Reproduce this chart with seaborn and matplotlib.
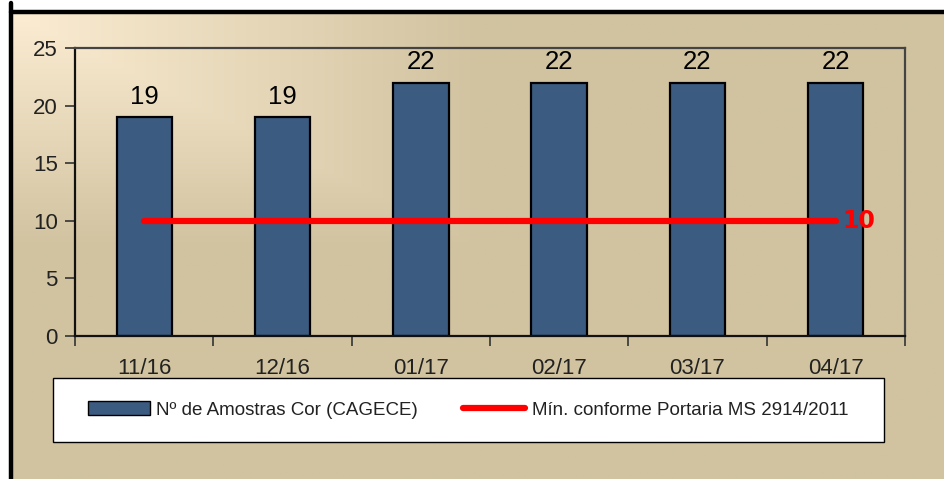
import numpy as np
import pandas as pd
import matplotlib.pyplot as plt
import seaborn as sns
from matplotlib.patches import Rectangle
from matplotlib.colors import to_rgb
from matplotlib.ticker import FixedLocator

meses = ["11/16", "12/16", "01/17", "02/17", "03/17", "04/17"]
amostras = [19, 19, 22, 22, 22, 22]
minimo = [10, 10, 10, 10, 10, 10]

nome_barras = "Nº de Amostras Cor (CAGECE)"
nome_linha = "Mín. conforme Portaria MS 2914/2011"

df = pd.DataFrame({"mes": meses, "amostras": amostras, "minimo": minimo})

sns.set_style("white")
plt.rcParams["font.family"] = ["Liberation Sans", "DejaVu Sans"]

W, H = 944, 479
fig = plt.figure(figsize=(W / 100, H / 100), dpi=100)
fig.patch.set_facecolor("white")

bege = "#D1C3A0"
claro = "#FCEDD3"

# fundo do grafico com moldura preta (cortada a direita e embaixo)
x0, y0 = 11 / W, 1 - 12 / H
moldura = Rectangle((x0, -0.05), 1.1 - x0, y0 + 0.05, transform=fig.transFigure,
                    facecolor=bege, edgecolor="none", zorder=-2)
fig.patches.append(moldura)

# degrade no canto superior esquerdo
bg = fig.add_axes([x0, 0, 1 - x0, y0], zorder=-1)
gx = np.linspace(0, 1, 500)
gy = np.linspace(0, 1, 250)
GX, GY = np.meshgrid(gx, gy)
t = np.clip(np.maximum(GX * (933 / 470), GY * (467 / 235)), 0, 1)
c1, c2 = np.array(to_rgb(claro)), np.array(to_rgb(bege))
img = c1[None, None, :] * (1 - t[..., None]) + c2[None, None, :] * t[..., None]
bg.imshow(img, aspect="auto", extent=(0, 1, 1, 0), interpolation="bilinear")
bg.set_xlim(0, 1)
bg.set_ylim(1, 0)
bg.axis("off")
# borda preta por cima do degrade
bg.plot([0, 0], [1.02, 0], color="black", linewidth=3.2, clip_on=False, transform=bg.transAxes)
bg.plot([0, 1.02], [1, 1], color="black", linewidth=3.2, clip_on=False, transform=bg.transAxes)

ax = fig.add_axes([75 / W, 1 - 336 / H, 830 / W, 288 / H], zorder=2)
ax.patch.set_alpha(0)

sns.barplot(data=df, x="mes", y="amostras", color="#3B5B81", saturation=1,
            width=0.4, edgecolor="black", linewidth=1.6, ax=ax)
ax.bar_label(ax.containers[0], fontsize=18.5, color="black", padding=6)

pos = np.arange(len(meses))
sns.lineplot(x=pos, y=df["minimo"], color="#FF0000", linewidth=4.5, ax=ax)
ax.annotate(str(minimo[-1]), xy=(pos[-1], minimo[-1]), xytext=(5, 0),
            textcoords="offset points", ha="left", va="center",
            fontsize=17, fontweight="bold", color="#FF0000",
            family=["DejaVu Sans"])

ax.set_xlim(-0.5, len(meses) - 0.5)
ax.set_ylim(0, 25)
ax.set_yticks(range(0, 26, 5))
ax.set_xlabel("")
ax.set_ylabel("")

ax.xaxis.set_major_locator(FixedLocator(np.arange(-0.5, len(meses), 1)))
ax.xaxis.set_minor_locator(FixedLocator(pos))
ax.set_xticklabels([], minor=False)
ax.set_xticklabels(meses, minor=True)
ax.tick_params(axis="x", which="major", bottom=True, direction="out", length=7.5,
               width=1.2, color="#333333")
ax.tick_params(axis="x", which="minor", bottom=True, length=0, pad=16,
               labelsize=16, labelcolor="#222222")
ax.tick_params(axis="y", left=True, direction="out", length=7.5, width=1.2,
               color="#333333", pad=5, labelsize=16, labelcolor="#222222")

for lado in ["top", "right"]:
    ax.spines[lado].set_color("#444444")
    ax.spines[lado].set_linewidth(1.6)
for lado in ["left", "bottom"]:
    ax.spines[lado].set_color("#111111")
    ax.spines[lado].set_linewidth(1.6)

# legenda em caixa branca
fig.patches.append(Rectangle((53 / W, 1 - 442 / H), 831 / W, 64 / H, transform=fig.transFigure,
                             facecolor="white", edgecolor="black", linewidth=1.0, zorder=3))
h1 = plt.Rectangle((0, 0), 1, 1, facecolor="#3B5B81", edgecolor="black", linewidth=1.0)
h2 = plt.Line2D([0], [0], color="#FF0000", linewidth=4.5)
leg = fig.legend([h1, h2], [nome_barras, nome_linha], loc="center",
                 bbox_to_anchor=(468 / W, 1 - 410 / H), ncol=2, frameon=False,
                 fontsize=13.5, handlelength=3.3, handleheight=0.7,
                 handletextpad=0.35, columnspacing=2.4, labelcolor="#222222")
leg.set_zorder(4)

fig.savefig("out.png", dpi=100)
